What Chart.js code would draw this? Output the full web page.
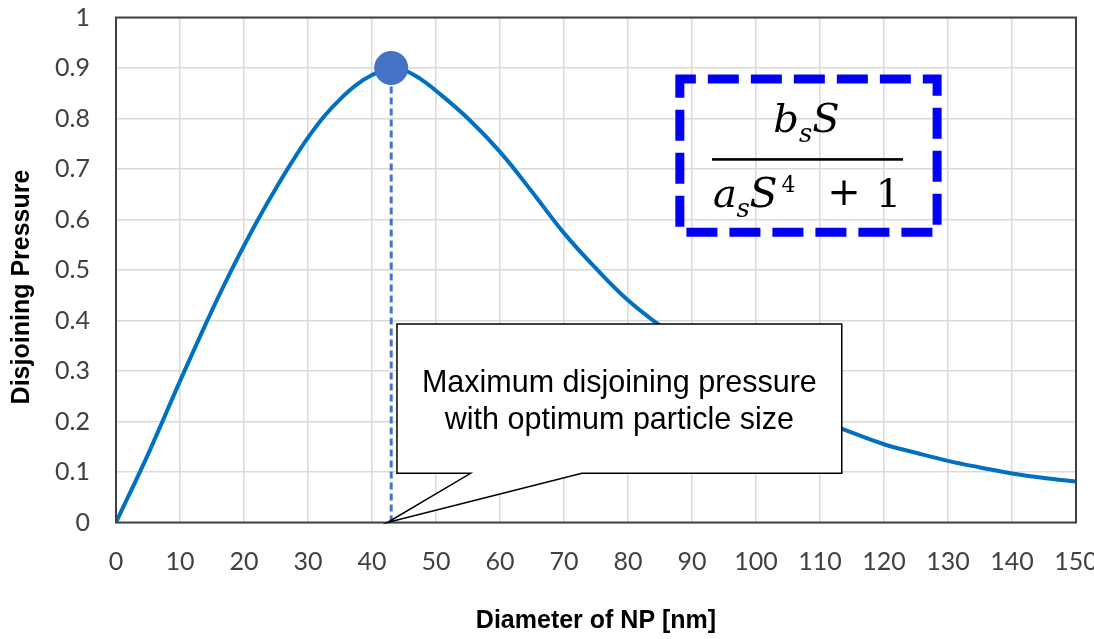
<!DOCTYPE html>
<html><head><meta charset="utf-8">
<script src="https://cdn.jsdelivr.net/npm/chart.js@4"></script>
<style>html,body{margin:0;padding:0;background:#fff;overflow:hidden}</style>
</head><body>
<canvas id="c" width="1094" height="639"></canvas>
<script>
// ---- data ----
const diameters = [0,5,10,15,17.5,20,22.5,25,27.5,30,32.5,35,37.5,40,43,45,47.5,50,55,60,65,70,75,80,85,90,95,100,105,110,115,120,125,130,135,140,145,150];
const pressures = [0,0.135,0.28,0.42,0.486,0.548,0.607,0.662,0.714,0.762,0.804,0.838,0.866,0.886,0.9,0.896,0.879,0.855,0.8,0.734,0.655,0.573,0.503,0.44,0.39,0.345,0.302,0.265,0.232,0.203,0.178,0.155,0.138,0.122,0.109,0.097,0.088,0.081];
const peakDiameter = 43;
const peakPressure = 0.9;
const xTickValues = [0,10,20,30,40,50,60,70,80,90,100,110,120,130,140,150];
const yTickValues = [0,0.1,0.2,0.3,0.4,0.5,0.6,0.7,0.8,0.9,1];
const xTitle = 'Diameter of NP [nm]';
const yTitle = 'Disjoining Pressure';
const calloutLines = ['Maximum disjoining pressure', 'with optimum particle size'];

// annotation anchors in data units
const callout = {x0: 43.9, x1: 113.4, y0: 0.0974, y1: 0.393, base0: 55.4, base1: 72.8, tipX: 42.4, tipY: 0};
const formulaBox = {x0: 88.1, x1: 128.3, y0: 0.575, y1: 0.878};

const decor = {
  id: 'decor',
  afterDatasetsDraw(chart) {
    const {ctx, chartArea: a, scales} = chart;
    const x = scales.x, y = scales.y;
    ctx.save();
    // plot border
    ctx.strokeStyle = '#404040'; ctx.lineWidth = 2;
    ctx.strokeRect(a.left, a.top, a.right - a.left, a.bottom - a.top);

    // callout
    const L = x.getPixelForValue(callout.x0), R = x.getPixelForValue(callout.x1);
    const T = y.getPixelForValue(callout.y1), B = y.getPixelForValue(callout.y0);
    ctx.beginPath();
    ctx.moveTo(L, T); ctx.lineTo(R, T); ctx.lineTo(R, B);
    ctx.lineTo(x.getPixelForValue(callout.base1), B);
    ctx.lineTo(x.getPixelForValue(callout.tipX), y.getPixelForValue(callout.tipY));
    ctx.lineTo(x.getPixelForValue(callout.base0), B);
    ctx.lineTo(L, B); ctx.closePath();
    ctx.fillStyle = '#ffffff'; ctx.fill();
    ctx.strokeStyle = '#000'; ctx.lineWidth = 1.5; ctx.lineJoin = 'miter'; ctx.stroke();
    ctx.fillStyle = '#000';
    ctx.font = '30.5px "Liberation Sans", Arial, sans-serif';
    ctx.textAlign = 'center'; ctx.textBaseline = 'alphabetic';
    const cx = (L + R) / 2;
    ctx.fillText(calloutLines[0], cx, T + 68);
    ctx.fillText(calloutLines[1], cx, T + 104.5);

    // formula box
    const fL = x.getPixelForValue(formulaBox.x0), fR = x.getPixelForValue(formulaBox.x1);
    const fT = y.getPixelForValue(formulaBox.y1), fB = y.getPixelForValue(formulaBox.y0);
    ctx.beginPath();
    ctx.moveTo(fL, fT + 15); ctx.lineTo(fL, fT); ctx.lineTo(fR, fT); ctx.lineTo(fR, fB); ctx.lineTo(fL, fB); ctx.closePath();
    ctx.setLineDash([31, 12]); ctx.lineDashOffset = 0;
    ctx.strokeStyle = '#0000f5'; ctx.lineWidth = 9; ctx.lineJoin = 'miter'; ctx.stroke();
    ctx.setLineDash([]);
    const mx = (fL + fR) / 2, my = (fT + fB) / 2;
    ctx.fillStyle = '#000';
    ctx.textAlign = 'left'; ctx.textBaseline = 'alphabetic';
    const it = (s) => `italic ${s}px "DejaVu Serif", "Liberation Serif", serif`;
    const up = (s) => `${s}px "DejaVu Serif", "Liberation Serif", serif`;
    // numerator: b_s S
    const parts = [[it(40), 'b', 0], [it(26), 's', 10], [it(40), 'S', 0]];
    let w = 0;
    parts.forEach(p => { ctx.font = p[0]; w += ctx.measureText(p[1]).width; });
    let px = mx - 2 - w / 2;
    parts.forEach(p => { ctx.font = p[0]; ctx.fillText(p[1], px, my - 24 + p[2]); px += ctx.measureText(p[1]).width; });
    // fraction bar
    ctx.fillRect(mx - 96.5, my + 2.5, 191, 2.6);
    // denominator: a_s S^4 + 1
    ctx.font = it(40); ctx.fillText('a', mx - 95.5, my + 51);
    ctx.font = it(26); ctx.fillText('s', mx - 72, my + 61);
    ctx.font = it(41); ctx.fillText('S', mx - 59, my + 51);
    ctx.font = up(22); ctx.fillText('4', mx - 27, my + 36);
    ctx.font = up(40); ctx.textAlign = 'center';
    ctx.fillText('+', mx + 35.5, my + 49);
    ctx.fillText('1', mx + 80, my + 51);

    ctx.restore();
  },
  afterDraw(chart) {
    const {ctx, chartArea: a} = chart;
    ctx.save();
    ctx.translate(22, (a.top + a.bottom) / 2 + 17);
    ctx.rotate(-Math.PI / 2);
    ctx.font = 'bold 25px "Liberation Sans", Arial, sans-serif';
    ctx.fillStyle = '#000'; ctx.textAlign = 'center'; ctx.textBaseline = 'middle';
    ctx.fillText(yTitle, 0, 0);
    ctx.restore();
  }
};

const tickFont = {family: 'Lato, "Open Sans", sans-serif', size: 25};
new Chart(document.getElementById('c'), {
  type: 'line',
  data: {
    datasets: [
      {
        data: [{x: peakDiameter, y: peakPressure}],
        showLine: false, pointRadius: 17, pointBackgroundColor: '#4472C4', pointBorderWidth: 0, order: 0
      },
      {
        data: diameters.map((d, i) => ({x: d, y: pressures[i]})),
        borderColor: '#0070C0', borderWidth: 4, pointRadius: 0, tension: 0.4, fill: false, order: 1
      },
      {
        data: [{x: peakDiameter, y: 0}, {x: peakDiameter, y: peakPressure}],
        borderColor: '#4472C4', borderWidth: 3, borderDash: [7, 4], pointRadius: 0, fill: false, order: 2
      }
    ]
  },
  options: {
    responsive: false, animation: false,
    layout: {padding: {left: 0, right: 18, top: 17.5, bottom: 0}},
    plugins: {legend: {display: false}, tooltip: {enabled: false}},
    scales: {
      x: {
        type: 'linear', min: 0, max: 150,
        afterBuildTicks: s => { s.ticks = xTickValues.map(v => ({value: v})); },
        afterFit: s => { s.height = 116.5; s.paddingRight = 18; s.paddingLeft = 0; },
        grid: {color: '#d9d9d9', lineWidth: 1.5, drawTicks: false},
        border: {display: false},
        ticks: {font: tickFont, color: '#404040', padding: 24, maxRotation: 0, autoSkip: false, callback: v => String(v)},
        title: {display: true, text: xTitle, color: '#000', font: {family: '"Liberation Sans", Arial, sans-serif', size: 25, weight: 'bold'}, padding: {top: 0, bottom: 3}}
      },
      y: {
        min: 0, max: 1,
        afterBuildTicks: s => { s.ticks = yTickValues.map(v => ({value: v})); },
        afterFit: s => { s.width = 116; s.paddingTop = 0; s.paddingBottom = 0; },
        grid: {color: '#d9d9d9', lineWidth: 1.5, drawTicks: false},
        border: {display: false},
        ticks: {font: tickFont, color: '#404040', padding: 26, autoSkip: false, callback: v => String(Math.round(v * 10) / 10)}
      }
    }
  },
  plugins: [decor]
});
</script>
</body></html>
